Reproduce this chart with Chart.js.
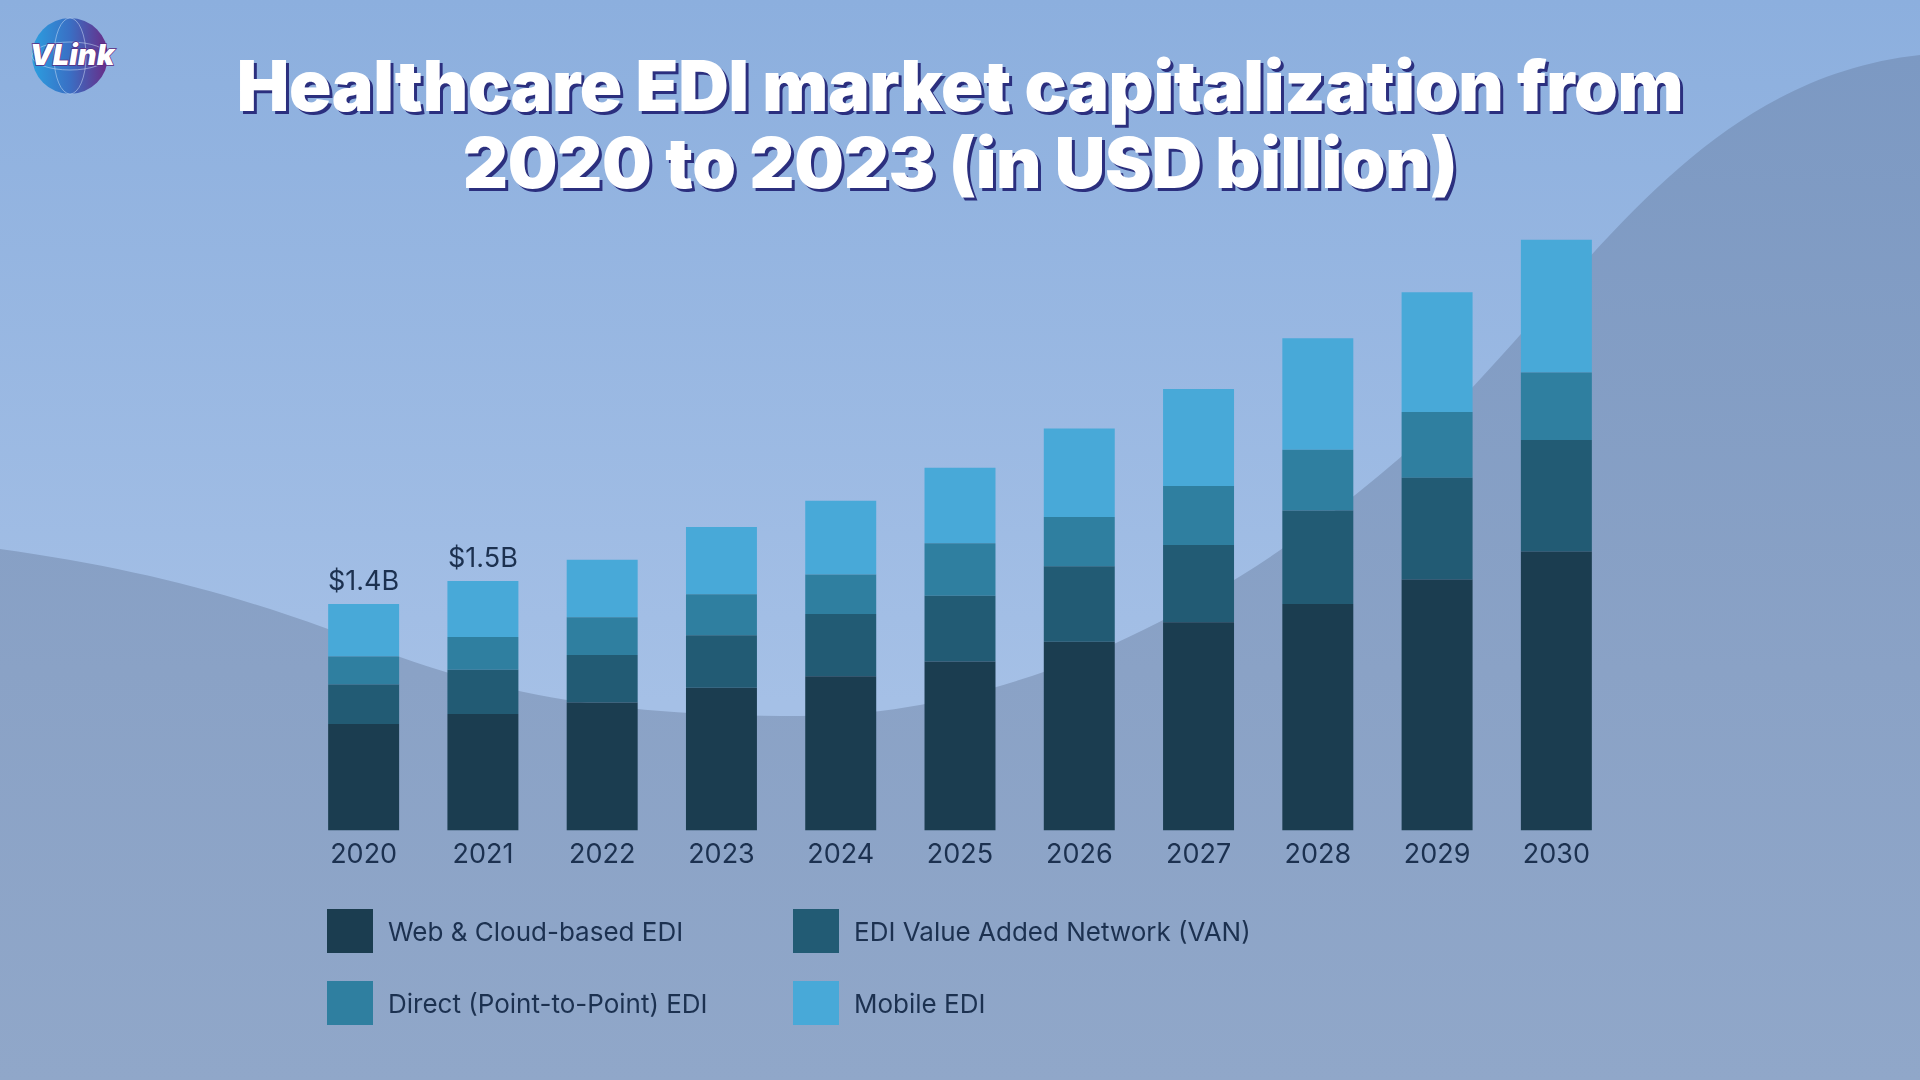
<!DOCTYPE html>
<html>
<head>
<meta charset="utf-8">
<script src="https://cdn.jsdelivr.net/npm/chart.js@4.4.1/dist/chart.umd.min.js"></script>
<style>
  html, body { margin: 0; padding: 0; }
  body { width: 1920px; height: 1080px; position: relative; overflow: hidden; font-family: Inter, "Noto Sans", sans-serif; }
  #bg { position: absolute; left: 0; top: 0; }
  #title {
    position: absolute; left: 0; top: 47px; width: 1920px; margin: 0;
    text-align: center; color: #fff; font-weight: 900; font-size: 70px; line-height: 77px;
    letter-spacing: -0.3px;
    text-shadow: 3px 3px 0 #2b2f7e;
  }
  #logo { position: absolute; left: 14px; top: 10px; }
  #wrap { position: absolute; left: 0; top: 0; width: 1920px; height: 1080px; }
  #legend {
    position: absolute; left: 327px; top: 909px;
    display: grid; grid-template-columns: 466px auto; row-gap: 28px;
  }
  .item { display: flex; align-items: center; height: 44px; color: #1c3150; font-size: 26px; }
  .sw { width: 46px; height: 44px; margin-right: 15px; }
</style>
</head>
<body>
<svg id="bg" width="1920" height="1080">
  <defs>
    <linearGradient id="sky" x1="0" y1="0" x2="0" y2="1">
      <stop offset="0" stop-color="#8cafde"/>
      <stop offset="0.65" stop-color="#a5c0e6"/>
      <stop offset="1" stop-color="#a5c0e6"/>
    </linearGradient>
    <linearGradient id="hill" x1="0" y1="0" x2="0" y2="1">
      <stop offset="0" stop-color="#7c99c3"/>
      <stop offset="0.6" stop-color="#8aa2c6"/>
      <stop offset="1" stop-color="#90a7c9"/>
    </linearGradient>
  </defs>
  <rect width="1920" height="1080" fill="url(#sky)"/>
  <path d="M0,549 C150,570 260,600 400,657 C520,700 640,716 800,716 C1000,716 1220,620 1420,440 C1580,290 1690,80 1920,55 L1920,1080 L0,1080 Z" fill="url(#hill)"/>
</svg>
<svg id="logo" width="120" height="100" viewBox="0 0 120 100">
  <defs>
    <linearGradient id="globe" x1="0" y1="0" x2="1" y2="0">
      <stop offset="0" stop-color="#2b9fe0"/>
      <stop offset="0.5" stop-color="#3a6fc4"/>
      <stop offset="1" stop-color="#6a2b86"/>
    </linearGradient>
  </defs>
  <circle cx="56" cy="46" r="38" fill="url(#globe)"/>
  <ellipse cx="56" cy="46" rx="38" ry="14" fill="none" stroke="#cfe2f7" stroke-opacity="0.5" stroke-width="1"/>
  <ellipse cx="56" cy="46" rx="16" ry="38" fill="none" stroke="#cfe2f7" stroke-opacity="0.5" stroke-width="1"/>
  <text x="58" y="55" text-anchor="middle" font-family="Inter, sans-serif" font-weight="900" font-style="italic" font-size="29" fill="#ffffff" stroke="#5a2a80" stroke-width="1.4" paint-order="stroke">VLink</text>
</svg>
<h1 id="title">Healthcare EDI market capitalization from<br>2020 to 2023 (in USD billion)</h1>
<div id="wrap"><canvas id="chart" width="1920" height="1080"></canvas></div>
<div id="legend"></div>
<script>
const years = ['2020','2021','2022','2023','2024','2025','2026','2027','2028','2029','2030'];
const webEdi    = [0.65, 0.71, 0.78, 0.87, 0.94, 1.03, 1.15, 1.27, 1.38, 1.53, 1.70];
const vanEdi    = [0.24, 0.27, 0.29, 0.32, 0.38, 0.40, 0.46, 0.47, 0.57, 0.62, 0.68];
const directEdi = [0.17, 0.20, 0.23, 0.25, 0.24, 0.32, 0.30, 0.36, 0.37, 0.40, 0.41];
const mobileEdi = [0.32, 0.34, 0.35, 0.41, 0.45, 0.46, 0.54, 0.59, 0.68, 0.73, 0.81];
const totalLabels = ['$1.4B', '$1.5B', '', '', '', '', '', '', '', '', ''];
const seriesNames = ['Web & Cloud-based EDI', 'EDI Value Added Network (VAN)', 'Direct (Point-to-Point) EDI', 'Mobile EDI'];
const seriesColors = ['#1b3d50', '#225b74', '#2f7fa0', '#48a9d8'];

const textColor = '#1c3150';

// draws the total labels above the top segment of each stack
const totalsPlugin = {
  id: 'totals',
  afterDatasetsDraw(chart) {
    const ctx = chart.ctx;
    const topMeta = chart.getDatasetMeta(chart.data.datasets.length - 1);
    ctx.save();
    ctx.font = '27px Inter, "Noto Sans", sans-serif';
    ctx.fillStyle = textColor;
    ctx.textAlign = 'center';
    ctx.textBaseline = 'middle';
    totalLabels.forEach((t, i) => {
      if (!t) return;
      const bar = topMeta.data[i];
      ctx.fillText(t, bar.x, bar.y - 22);
    });
    ctx.restore();
  }
};

const series = [webEdi, vanEdi, directEdi, mobileEdi];

const chart = new Chart(document.getElementById('chart'), {
  type: 'bar',
  data: {
    labels: years,
    datasets: series.map((d, i) => ({
      label: seriesNames[i],
      data: d,
      backgroundColor: seriesColors[i],
      borderWidth: 0,
      barPercentage: 0.595,
      categoryPercentage: 1
    }))
  },
  options: {
    responsive: false,
    animation: false,
    layout: { padding: { left: 304, right: 304, top: 174, bottom: 201 } },
    plugins: {
      legend: { display: false },
      tooltip: { enabled: false }
    },
    scales: {
      x: {
        stacked: true,
        grid: { display: false, drawTicks: false },
        border: { display: false },
        ticks: {
          color: textColor,
          padding: 8,
          font: { family: 'Inter, "Noto Sans", sans-serif', size: 27 }
        }
      },
      y: {
        stacked: true,
        display: false,
        min: 0,
        max: 4
      }
    }
  },
  plugins: [totalsPlugin]
});

// legend in two columns, built from the chart's datasets
const legendEl = document.getElementById('legend');
chart.data.datasets.forEach(ds => {
  const item = document.createElement('div');
  item.className = 'item';
  const sw = document.createElement('div');
  sw.className = 'sw';
  sw.style.background = ds.backgroundColor;
  const label = document.createElement('span');
  label.textContent = ds.label;
  item.appendChild(sw);
  item.appendChild(label);
  legendEl.appendChild(item);
});
</script>
</body>
</html>
